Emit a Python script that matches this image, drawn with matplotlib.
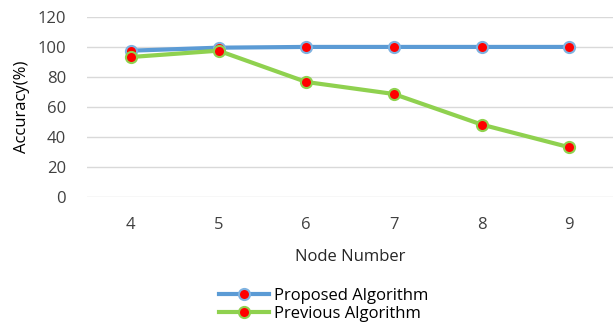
import numpy as np
import matplotlib.pyplot as plt

plt.rcParams['font.family'] = ['Open Sans', 'DejaVu Sans']

nodes = [4, 5, 6, 7, 8, 9]
proposed = [97.5, 99.5, 100, 100, 100, 100]
previous = [93.3, 97.5, 76.7, 68.7, 48.4, 33.3]

fig = plt.figure(figsize=(6.13, 3.24), dpi=100)
ax = fig.add_axes([0.142, 0.391, 0.858, 0.557])

ax.plot(nodes, proposed, color='#5b9bd5', lw=3, marker='o', ms=8,
        mfc='red', mec='#7fb2e0', mew=1.5, label='Proposed Algorithm', zorder=3)
ax.plot(nodes, previous, color='#8fd14f', lw=3, marker='o', ms=8,
        mfc='red', mec='#8fd14f', mew=1.5, label='Previous Algorithm', zorder=3)

ax.set_ylim(0, 120)
ax.set_yticks(np.arange(0, 121, 20))
ax.set_xlim(3.5, 9.5)
ax.set_xticks(nodes)
ax.grid(axis='y', color='#d9d9d9', lw=1)
ax.set_axisbelow(True)
for s in ax.spines.values():
    s.set_visible(False)
ax.tick_params(length=0, labelsize=12, colors='#404040')
ax.tick_params(axis='x', pad=14)
ax.tick_params(axis='y', pad=15)
ax.set_ylabel('Accuracy(%)', fontsize=12, color='black')
ax.yaxis.set_label_coords(-0.108, 0.5)
ax.set_xlabel('Node Number', fontsize=12, color='#262626', labelpad=12)

fig.legend(loc='center', bbox_to_anchor=(0.528, 0.059), frameon=False,
           fontsize=12, handlelength=3, labelspacing=0.15, handletextpad=0.3,
           borderpad=0)

fig.savefig('out.png', dpi=100)
